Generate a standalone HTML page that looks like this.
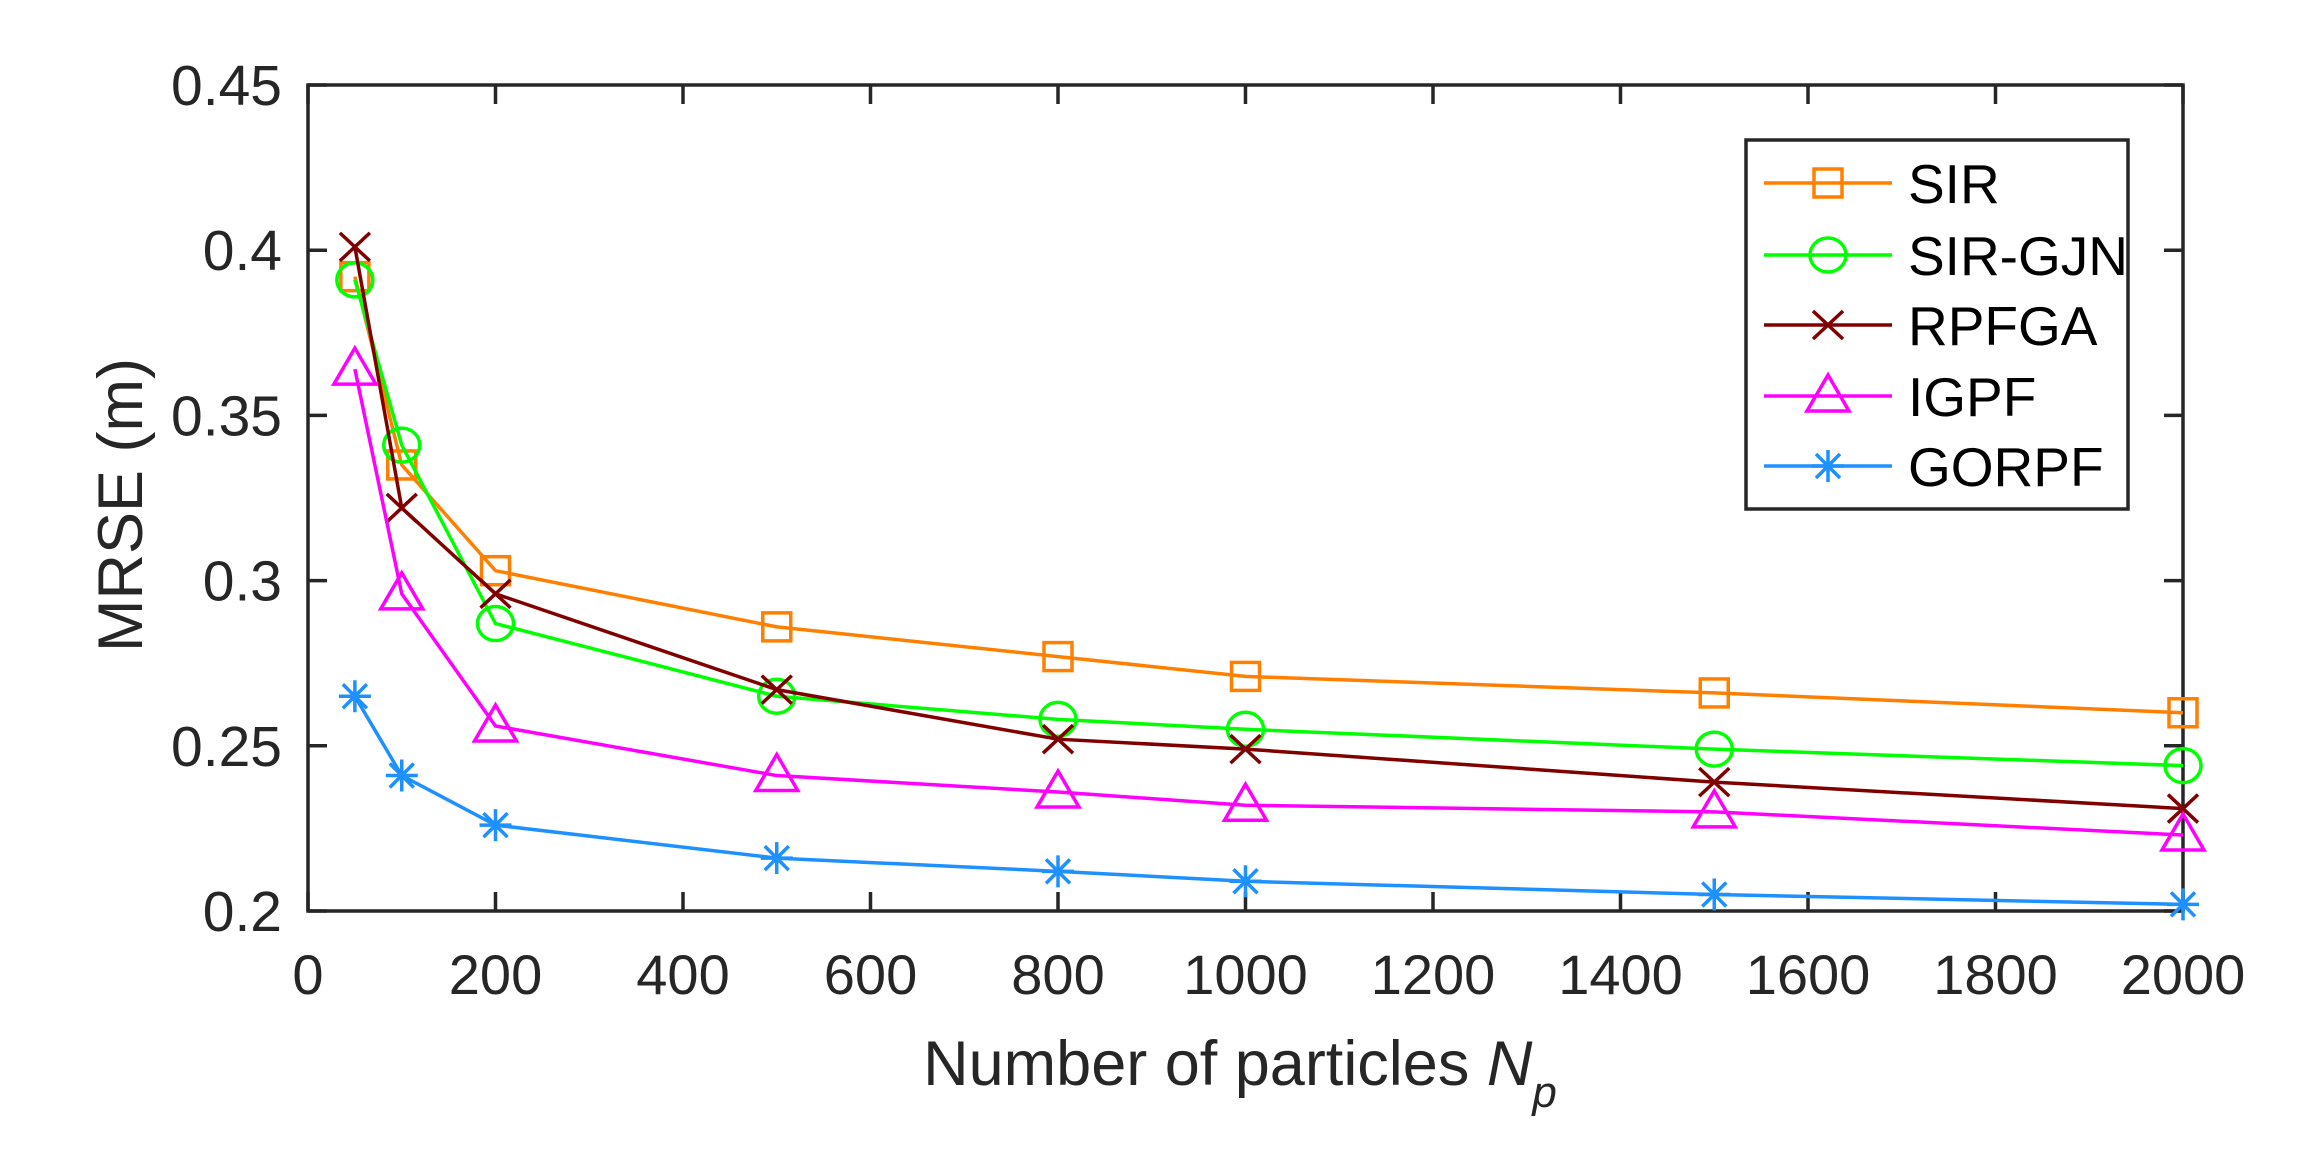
<!DOCTYPE html>
<html><head><meta charset="utf-8"><style>body{margin:0;background:#fff}svg{display:block}</style></head>
<body>
<svg id="s" width="2306" height="1157" xmlns="http://www.w3.org/2000/svg" font-family="Liberation Sans, Arial, sans-serif"></svg>
<script>
const s=document.getElementById('s');
const X0=308,X1=2183,Y0=911,Y1=85;
const px=v=>X0+(X1-X0)*v/2000, py=v=>Y0-(Y0-Y1)*(v-0.2)/0.25;
let h='';
h+=`<rect x="${X0}" y="${Y1}" width="${X1-X0}" height="${Y0-Y1}" fill="none" stroke="#262626" stroke-width="3.5"/>`;
for(let v=0;v<=2000;v+=200){const x=px(v);h+=`<line x1="${x}" y1="${Y0}" x2="${x}" y2="${Y0-19}" stroke="#262626" stroke-width="3.5"/><line x1="${x}" y1="${Y1}" x2="${x}" y2="${Y1+19}" stroke="#262626" stroke-width="3.5"/><text x="${x}" y="994" font-size="56" text-anchor="middle" fill="#262626">${v}</text>`;}
[0.2,0.25,0.3,0.35,0.4,0.45].forEach(v=>{const y=py(v);h+=`<line x1="${X0}" y1="${y}" x2="${X0+19}" y2="${y}" stroke="#262626" stroke-width="3.5"/><line x1="${X1}" y1="${y}" x2="${X1-19}" y2="${y}" stroke="#262626" stroke-width="3.5"/><text x="282" y="${y+20}" font-size="57" text-anchor="end" fill="#262626">${v}</text>`;});
h+=`<text x="1240" y="1085" font-size="63" text-anchor="middle" fill="#262626">Number of particles <tspan font-style="italic">N</tspan><tspan font-style="italic" font-size="44" dy="22">p</tspan></text>`;
h+=`<text transform="translate(142,505) rotate(-90)" font-size="63" text-anchor="middle" fill="#262626">MRSE (m)</text>`;
const xs=[50,100,200,500,800,1000,1500,2000];
const S=[
['SIR','#FF8000','sq',[0.392,0.335,0.303,0.286,0.277,0.271,0.266,0.260]],
['SIR-GJN','#00FF00','ci',[0.391,0.341,0.287,0.265,0.258,0.255,0.249,0.244]],
['RPFGA','#800000','x',[0.401,0.322,0.296,0.267,0.252,0.249,0.239,0.231]],
['IGPF','#FF00FF','tr',[0.364,0.296,0.256,0.241,0.236,0.232,0.230,0.223]],
['GORPF','#1E90FF','st',[0.265,0.241,0.226,0.216,0.212,0.209,0.205,0.202]]];
function mk(t,x,y,c){const a=`fill="none" stroke="${c}" stroke-width="3.5"`;
if(t=='sq')return `<rect x="${x-14}" y="${y-14}" width="28" height="28" ${a}/>`;
if(t=='ci')return `<ellipse cx="${x}" cy="${y}" rx="18" ry="17" ${a}/>`;
if(t=='x')return `<path d="M${x-15} ${y-14}L${x+15} ${y+14}M${x-15} ${y+14}L${x+15} ${y-14}" ${a}/>`;
if(t=='tr')return `<path d="M${x} ${y-21}L${x+21} ${y+15}L${x-21} ${y+15}Z" ${a}/>`;
return `<path d="M${x-16} ${y}H${x+16}M${x} ${y-16}V${y+16}M${x-12} ${y-12}L${x+12} ${y+12}M${x-12} ${y+12}L${x+12} ${y-12}" ${a}/>`;}
S.forEach(([n,c,t,d])=>{h+=`<polyline points="${xs.map((v,i)=>px(v)+','+py(d[i])).join(' ')}" fill="none" stroke="${c}" stroke-width="3.5"/>`;xs.forEach((v,i)=>h+=mk(t,px(v),py(d[i]),c));});
h+=`<rect x="1746" y="140" width="382" height="369" fill="#fff" stroke="#262626" stroke-width="3.5"/>`;
[183,255,325,396,466].forEach((y,i)=>{const [n,c,t]=S[i];h+=`<line x1="1764" y1="${y}" x2="1892" y2="${y}" stroke="${c}" stroke-width="3.5"/>`+mk(t,1828,y,c)+`<text x="1908" y="${y+20}" font-size="55" fill="#000">${n}</text>`;});
s.innerHTML=h;
</script>
</body></html>
